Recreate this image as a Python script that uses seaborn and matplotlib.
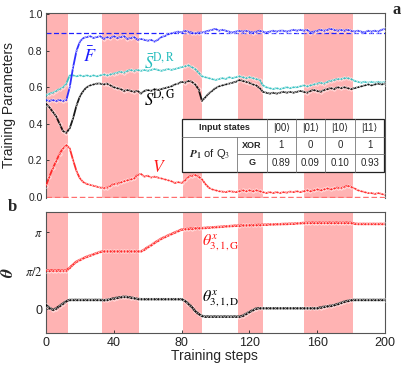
import matplotlib
matplotlib.use("Agg")
import matplotlib.pyplot as plt
import seaborn as sns
import numpy as np
import pandas as pd
from matplotlib.patches import Rectangle
from matplotlib.lines import Line2D

# ---------------- data ----------------
steps = list(range(0, 201, 2))

F_bar = [0.53, 0.525, 0.53, 0.525, 0.53, 0.525, 0.53, 0.60, 0.71, 0.80,
         0.85, 0.87, 0.875, 0.88, 0.87, 0.875, 0.88, 0.865, 0.875, 0.87,
         0.88, 0.87, 0.875, 0.88, 0.865, 0.87, 0.875, 0.86, 0.865, 0.86,
         0.855, 0.86, 0.85, 0.86, 0.875, 0.88, 0.89, 0.895, 0.90, 0.905,
         0.90, 0.91, 0.905, 0.90, 0.895, 0.90, 0.90, 0.905, 0.91, 0.915,
         0.92, 0.91, 0.915, 0.91, 0.905, 0.90, 0.905, 0.91, 0.905, 0.91,
         0.905, 0.90, 0.905, 0.91, 0.905, 0.90, 0.905, 0.91, 0.905, 0.91,
         0.91, 0.905, 0.91, 0.915, 0.91, 0.915, 0.91, 0.915, 0.90, 0.905,
         0.91, 0.915, 0.91, 0.915, 0.92, 0.915, 0.91, 0.915, 0.91, 0.915,
         0.91, 0.905, 0.91, 0.905, 0.90, 0.91, 0.905, 0.91, 0.905, 0.915,
         0.92]

S_DR = [0.555, 0.565, 0.57, 0.58, 0.59, 0.60, 0.62, 0.665, 0.665, 0.66,
        0.665, 0.66, 0.665, 0.66, 0.665, 0.66, 0.665, 0.67, 0.665, 0.67,
        0.675, 0.68, 0.685, 0.68, 0.69, 0.695, 0.69, 0.695, 0.69, 0.695,
        0.69, 0.695, 0.70, 0.695, 0.69, 0.695, 0.70, 0.695, 0.70, 0.705,
        0.71, 0.715, 0.72, 0.71, 0.70, 0.68, 0.66, 0.655, 0.65, 0.645,
        0.64, 0.645, 0.65, 0.645, 0.655, 0.65, 0.655, 0.66, 0.655, 0.65,
        0.655, 0.65, 0.645, 0.64, 0.61, 0.60, 0.595, 0.59, 0.595, 0.59,
        0.595, 0.60, 0.595, 0.60, 0.60, 0.605, 0.61, 0.605, 0.61, 0.615,
        0.62, 0.625, 0.62, 0.63, 0.635, 0.64, 0.645, 0.645, 0.65, 0.65,
        0.645, 0.635, 0.63, 0.625, 0.63, 0.625, 0.63, 0.625, 0.63, 0.625,
        0.63]

S_DG = [0.51, 0.49, 0.465, 0.44, 0.40, 0.36, 0.35, 0.375, 0.43, 0.50,
        0.55, 0.58, 0.60, 0.61, 0.615, 0.62, 0.62, 0.615, 0.62, 0.61,
        0.60, 0.595, 0.59, 0.58, 0.585, 0.58, 0.575, 0.58, 0.565, 0.58,
        0.585, 0.58, 0.59, 0.585, 0.59, 0.595, 0.60, 0.605, 0.615, 0.62,
        0.63, 0.625, 0.635, 0.63, 0.615, 0.59, 0.525, 0.545, 0.565, 0.58,
        0.595, 0.605, 0.61, 0.615, 0.62, 0.625, 0.63, 0.64, 0.635, 0.63,
        0.625, 0.615, 0.61, 0.595, 0.575, 0.57, 0.565, 0.57, 0.565, 0.57,
        0.575, 0.57, 0.575, 0.57, 0.575, 0.58, 0.575, 0.57, 0.58, 0.585,
        0.58, 0.575, 0.585, 0.59, 0.595, 0.59, 0.60, 0.595, 0.60, 0.595,
        0.59, 0.595, 0.60, 0.605, 0.61, 0.615, 0.61, 0.615, 0.62, 0.615,
        0.62]

V_val = [0.06, 0.11, 0.155, 0.195, 0.235, 0.265, 0.283, 0.265, 0.20, 0.14,
         0.10, 0.08, 0.07, 0.065, 0.06, 0.055, 0.05, 0.048, 0.05, 0.06,
         0.07, 0.072, 0.078, 0.085, 0.09, 0.095, 0.10, 0.12, 0.125, 0.11,
         0.115, 0.105, 0.11, 0.105, 0.10, 0.095, 0.09, 0.085, 0.075, 0.08,
         0.075, 0.09, 0.11, 0.115, 0.12, 0.11, 0.095, 0.07, 0.05, 0.04,
         0.035, 0.03, 0.028, 0.025, 0.03, 0.028, 0.025, 0.03, 0.035, 0.03,
         0.035, 0.03, 0.035, 0.03, 0.025, 0.02, 0.025, 0.02, 0.025, 0.02,
         0.025, 0.022, 0.028, 0.025, 0.03, 0.025, 0.03, 0.035, 0.03, 0.035,
         0.04, 0.035, 0.04, 0.045, 0.04, 0.045, 0.05, 0.048, 0.055, 0.06,
         0.055, 0.045, 0.035, 0.03, 0.025, 0.02, 0.02, 0.015, 0.02, 0.015,
         0.01]

theta_G = [1.571, 1.571, 1.571, 1.571, 1.571, 1.571, 1.571, 1.68, 1.82, 1.93,
           2.00, 2.07, 2.13, 2.18, 2.23, 2.28, 2.33, 2.35, 2.35, 2.35,
           2.35, 2.35, 2.35, 2.35, 2.35, 2.35, 2.35, 2.35, 2.35, 2.42,
           2.52, 2.60, 2.70, 2.78, 2.87, 2.93, 3.00, 3.06, 3.12, 3.18,
           3.24, 3.26, 3.27, 3.28, 3.29, 3.30, 3.30, 3.31, 3.32, 3.33,
           3.34, 3.35, 3.36, 3.37, 3.38, 3.39, 3.40, 3.40, 3.41, 3.41,
           3.42, 3.42, 3.43, 3.43, 3.44, 3.44, 3.45, 3.45, 3.46, 3.46,
           3.47, 3.47, 3.48, 3.48, 3.49, 3.50, 3.51, 3.52, 3.52, 3.52,
           3.52, 3.52, 3.52, 3.52, 3.52, 3.52, 3.52, 3.52, 3.52, 3.52,
           3.52, 3.48, 3.47, 3.47, 3.47, 3.47, 3.47, 3.47, 3.47, 3.47,
           3.47]

theta_D = [0.17, 0.05, -0.03, 0.02, 0.12, 0.22, 0.32, 0.37, 0.37, 0.37,
           0.37, 0.37, 0.37, 0.37, 0.37, 0.37, 0.37, 0.36, 0.37, 0.40,
           0.43, 0.46, 0.48, 0.50, 0.49, 0.47, 0.44, 0.41, 0.40, 0.40,
           0.40, 0.40, 0.40, 0.40, 0.40, 0.40, 0.40, 0.40, 0.40, 0.40,
           0.40, 0.33, 0.22, 0.08, -0.08, -0.20, -0.28, -0.31, -0.31, -0.31,
           -0.31, -0.31, -0.31, -0.31, -0.31, -0.31, -0.31, -0.31, -0.28, -0.20,
           -0.12, -0.05, 0.02, 0.03, 0.03, 0.03, 0.03, 0.03, 0.03, 0.03,
           0.03, 0.03, 0.03, 0.03, 0.03, 0.03, 0.03, 0.03, 0.03, 0.03,
           0.03, 0.06, 0.09, 0.11, 0.13, 0.16, 0.20, 0.25, 0.30, 0.33,
           0.36, 0.37, 0.37, 0.37, 0.37, 0.37, 0.37, 0.37, 0.37, 0.37,
           0.37]

shade_start = [0, 33, 81, 113, 152]
shade_end = [13, 55, 92, 128, 181]

F_target = 0.9

table_header = ["Input states", "|00\u27e9", "|01\u27e9", "|10\u27e9", "|11\u27e9"]
xor_row = ["1", "0", "0", "1"]
g_row = ["0.89", "0.09", "0.10", "0.93"]

# ---------------- style ----------------
sns.set_style("ticks")
plt.rcParams["font.family"] = ["Liberation Sans", "DejaVu Sans"]
plt.rcParams["mathtext.fontset"] = "stix"

fig = plt.figure(figsize=(4.07, 3.67), dpi=100)
ax1 = fig.add_axes([0.113, 0.4616, 0.833, 0.502])
ax2 = fig.add_axes([0.113, 0.0918, 0.833, 0.3313])

shade_col = "#ffb3b3"
for ax in (ax1, ax2):
    for s, e in zip(shade_start, shade_end):
        ax.axvspan(s, e, color=shade_col, lw=0, zorder=0)
    ax.set_xlim(0, 200)
    for sp in ax.spines.values():
        sp.set_color("#555555")
        sp.set_linewidth(0.8)
    ax.tick_params(direction="in", length=2, width=0.6,
                   colors="#222222", pad=2.5)

df = pd.DataFrame({"step": steps, "F": F_bar, "SR": S_DR, "SG": S_DG,
                   "V": V_val, "tG": theta_G, "tD": theta_D})

mk = dict(marker="o", markersize=2.4, markerfacecolor="none",
          markeredgewidth=0.4, alpha=0.9)

# top panel
ax1.axhline(F_target, color="#2020ff", ls=(0, (4, 2)), lw=0.9, zorder=1)
ax1.axhline(0.0, color="#ff6f6f", ls=(0, (4, 2)), lw=1.0, zorder=1)
sns.lineplot(data=df, x="step", y="SR", ax=ax1, color="#26bdbd", lw=1.3, zorder=3, **mk)
sns.lineplot(data=df, x="step", y="SG", ax=ax1, color="black", lw=1.3, zorder=4, **mk)
sns.lineplot(data=df, x="step", y="F", ax=ax1, color="#1a1aff", lw=1.3, zorder=5, **mk)
sns.lineplot(data=df, x="step", y="V", ax=ax1, color="#ff1a1a", lw=1.3, zorder=3, **mk)
ax1.set_ylim(-0.005, 1.005)
ax1.set_yticks([0.0, 0.2, 0.4, 0.6, 0.8, 1.0])
ax1.set_yticklabels(["0.0", "0.2", "0.4", "0.6", "0.8", "1.0"], fontsize=7.5)
ax1.set_xticks([])
ax1.set_xlabel("")
ax1.spines["bottom"].set_visible(False)
ax1.set_ylabel("Training Parameters", fontsize=10)
ax1.yaxis.set_label_coords(-0.087, 0.5)

ax1.text(26, 0.77, r"$\bar{F}$", color="#1a1aff", fontsize=13, ha="center", va="center")
ax1.text(58, 0.738, r"$\bar{S}^{\mathrm{D,R}}$", color="#26bdbd", fontsize=12, ha="left", va="center")
ax1.text(58, 0.535, r"$\bar{S}^{\mathrm{D,G}}$", color="black", fontsize=12, ha="left", va="center")
ax1.text(66.5, 0.165, r"$V$", color="#ff1a1a", fontsize=12.5, ha="center", va="center")

# table (axes fraction coordinates)
cx = [0.402, 0.5625, 0.651, 0.7366, 0.823, 0.9115, 0.9979]
ry = [0.425, 0.3306, 0.2351, 0.1406]
tr = ax1.transAxes
ax1.add_patch(Rectangle((cx[0], ry[3]), cx[-1] - cx[0], ry[0] - ry[3],
                        transform=tr, facecolor="white", edgecolor="#222222",
                        lw=0.9, zorder=10))
inner = dict(color="#777777", lw=0.6, zorder=11, transform=tr)
ax1.add_line(Line2D([cx[0], cx[-1]], [ry[1], ry[1]], **inner))
ax1.add_line(Line2D([cx[1], cx[-1]], [ry[2], ry[2]], **inner))
ax1.add_line(Line2D([cx[1], cx[1]], [ry[1], ry[3]], **inner))
for c in cx[2:-1]:
    ax1.add_line(Line2D([c, c], [ry[0], ry[3]], **inner))
tk = dict(transform=tr, ha="center", va="center", zorder=12, fontsize=7)
tb = dict(transform=tr, ha="center", va="center", zorder=12, fontsize=6.5,
          fontweight="bold")
ax1.text((cx[0] + cx[2]) / 2, (ry[0] + ry[1]) / 2, table_header[0], **tb)
for j in range(4):
    xc = (cx[2 + j] + cx[3 + j]) / 2
    ax1.text(xc, (ry[0] + ry[1]) / 2, table_header[j + 1], **tk)
    ax1.text(xc, (ry[1] + ry[2]) / 2, xor_row[j], **tk)
    ax1.text(xc, (ry[2] + ry[3]) / 2, g_row[j], **tk)
ax1.text((cx[1] + cx[2]) / 2, (ry[1] + ry[2]) / 2, "XOR", **tb)
ax1.text((cx[1] + cx[2]) / 2, (ry[2] + ry[3]) / 2, "G", **tb)
ax1.text((cx[0] + cx[1]) / 2, (ry[1] + ry[3]) / 2,
         r"$\boldsymbol{P}_{\mathbf{1}}$ of Q$_3$", transform=tr, ha="center",
         va="center", zorder=12, fontsize=8)

# bottom panel
sns.lineplot(data=df, x="step", y="tG", ax=ax2, color="#ff1a1a", lw=1.8, zorder=3, **mk)
sns.lineplot(data=df, x="step", y="tD", ax=ax2, color="black", lw=1.8, zorder=3, **mk)
ax2.set_ylim(-0.99, 3.97)
ax2.set_yticks([0, np.pi / 2, np.pi])
ax2.set_yticklabels(["0", r"$\pi/2$", r"$\pi$"], fontsize=9)
ax2.set_xticks([0, 40, 80, 120, 160, 200])
ax2.set_xticklabels(["0", "40", "80", "120", "160", "200"], fontsize=9)
ax2.set_xlabel("Training steps", fontsize=10)
ax2.xaxis.set_label_coords(0.498, -0.128)
ax2.xaxis.label.set_va("top")
ax2.set_ylabel(r"$\boldsymbol{\theta}$", fontsize=12.5)
ax2.yaxis.set_label_coords(-0.088, 0.5)
ax2.text(92, 2.7, r"$\theta^{x}_{3,1,\mathrm{G}}$", color="#ff1a1a", fontsize=11.5,
         ha="left", va="center")
ax2.text(92, 0.40, r"$\theta^{x}_{3,1,\mathrm{D}}$", color="black", fontsize=11.5,
         ha="left", va="center")

fig.text(0.975, 0.972, "a", fontsize=12, fontweight="bold",
         family="Liberation Serif", ha="center", va="center")
fig.text(0.03, 0.437, "b", fontsize=12, fontweight="bold",
         family="Liberation Serif", ha="center", va="center")

fig.savefig("out.png", dpi=100)
